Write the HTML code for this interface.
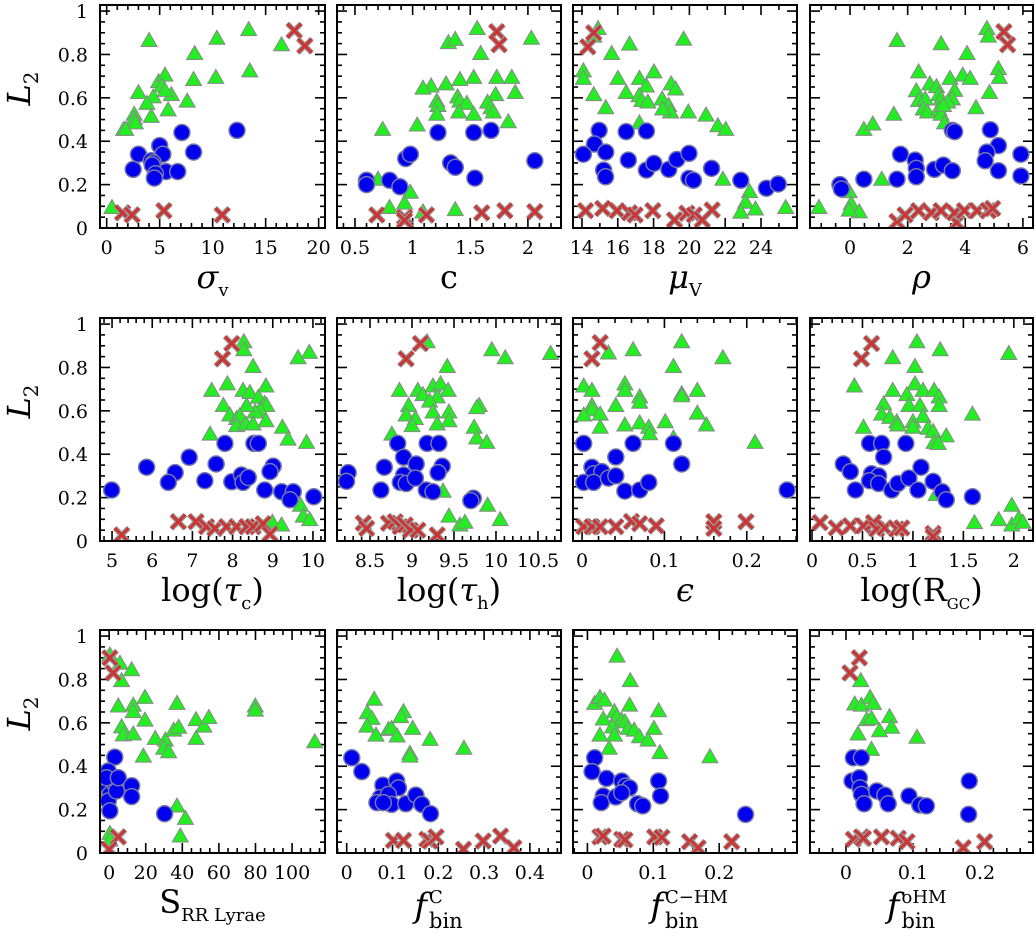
<!DOCTYPE html>
<html><head><meta charset="utf-8"><style>
html,body{margin:0;padding:0;background:#fff;}
svg{display:block;font-family:"DejaVu Serif","Liberation Serif",serif;}
</style></head><body>
<svg id="fig" width="1036" height="939" viewBox="0 0 1036 939" xmlns="http://www.w3.org/2000/svg"></svg>
<script>
// ---------- DATA (x, L2) ----------
const sigmaGreen=[[4.0,0.86],[10.4,0.87],[13.4,0.91],[16.5,0.84],[8.3,0.80],[13.5,0.72],[10.3,0.69],[8.2,0.68],[4.9,0.67],[5.5,0.70],[5.2,0.65],[3.0,0.62],[4.4,0.60],[6.1,0.61],[5.5,0.63],[3.8,0.57],[5.8,0.54],[7.6,0.58],[2.6,0.52],[2.6,0.50],[2.7,0.48],[4.2,0.51],[1.6,0.45],[1.8,0.45],[0.5,0.09]];
const sigmaBlue=[[7.1,0.44],[12.3,0.45],[8.2,0.35],[3.0,0.34],[5.0,0.38],[5.3,0.34],[4.2,0.31],[4.4,0.30],[4.3,0.29],[2.5,0.27],[5.6,0.26],[6.7,0.26],[4.6,0.25],[4.5,0.23]];
const sigmaRed=[[17.7,0.91],[18.7,0.84],[1.5,0.07],[2.4,0.06],[5.4,0.08],[10.9,0.06]];

const cGreenX=[1.56,1.31,1.37,2.03,1.59,1.53,1.41,1.29,1.16,1.09,1.73,1.86,1.89,1.72,1.39,1.41,1.21,1.22,1.21,1.47,1.40,1.53,1.65,1.68,1.70,1.83,1.04,0.74,0.70,0.98,0.93,0.80,1.09,1.37];
const cGreenY=[0.915,0.85,0.865,0.87,0.80,0.69,0.68,0.66,0.65,0.64,0.69,0.69,0.62,0.61,0.60,0.58,0.58,0.56,0.52,0.57,0.53,0.52,0.575,0.55,0.53,0.485,0.47,0.45,0.22,0.16,0.11,0.09,0.07,0.08];
const cBlueX=[1.22,1.53,1.68,2.06,0.94,0.98,1.33,1.37,1.54,0.60,0.60,0.80,0.89];
const cBlueY=[0.44,0.44,0.45,0.31,0.32,0.34,0.30,0.28,0.23,0.22,0.20,0.22,0.19];
const cRedX=[1.73,1.75,0.69,0.93,0.93,1.12,1.60,1.80,2.06];
const cRedY=[0.905,0.845,0.06,0.05,0.035,0.06,0.07,0.08,0.075];

const muGreen=[[14.90,0.915],[14.66,0.88],[16.66,0.843],[15.66,0.80],[19.68,0.866],[14.08,0.72],[14.08,0.685],[14.66,0.61],[16.01,0.685],[17.21,0.685],[18.02,0.715],[17.60,0.65],[16.47,0.62],[17.19,0.605],[17.35,0.583],[17.68,0.576],[18.98,0.66],[19.23,0.636],[18.48,0.59],[18.84,0.56],[18.95,0.53],[18.51,0.544],[15.33,0.55],[17.21,0.48],[19.94,0.53],[20.93,0.516],[21.59,0.467],[22.03,0.45],[21.87,0.22],[23.36,0.163],[23.14,0.114],[23.69,0.083],[22.87,0.068],[25.38,0.09]];
const muBlue=[[14.96,0.45],[16.47,0.444],[17.60,0.447],[14.70,0.387],[14.08,0.34],[15.33,0.35],[15.21,0.267],[15.32,0.236],[16.59,0.313],[17.60,0.267],[18.02,0.298],[18.85,0.27],[19.30,0.316],[19.98,0.344],[19.98,0.229],[20.23,0.22],[21.24,0.275],[22.87,0.22],[24.30,0.183],[24.96,0.203]];
const muRed=[[14.66,0.9],[14.33,0.835],[14.20,0.08],[15.16,0.09],[15.96,0.08],[16.66,0.07],[16.97,0.06],[17.96,0.08],[19.17,0.037],[19.86,0.068],[20.27,0.06],[20.72,0.037],[21.27,0.083]];

const rhoGreen=[[1.63,0.86],[3.16,0.845],[4.75,0.915],[4.80,0.88],[4.06,0.80],[5.15,0.73],[5.18,0.69],[2.38,0.715],[2.77,0.66],[3.0,0.647],[3.47,0.685],[3.91,0.70],[4.17,0.685],[2.30,0.628],[3.08,0.61],[3.16,0.59],[3.63,0.63],[3.55,0.59],[4.84,0.62],[2.38,0.583],[2.61,0.59],[2.54,0.544],[2.69,0.53],[3.08,0.544],[3.16,0.52],[3.39,0.576],[3.24,0.56],[4.37,0.55],[1.52,0.52],[0.48,0.45],[0.79,0.475],[1.10,0.22],[3.28,0.48],[-1.08,0.09],[-0.03,0.163],[0.04,0.107],[0.32,0.07],[-0.03,0.078]];
const rhoBlue=[[3.55,0.45],[3.63,0.444],[4.87,0.453],[5.15,0.38],[4.75,0.35],[4.69,0.31],[5.93,0.34],[5.93,0.24],[5.15,0.264],[1.75,0.34],[2.26,0.313],[2.30,0.275],[2.30,0.236],[2.93,0.27],[3.24,0.29],[3.55,0.264],[0.48,0.225],[1.63,0.225],[-0.35,0.2],[-0.30,0.18]];
const rhoRed=[[5.34,0.905],[5.47,0.845],[1.63,0.03],[1.91,0.06],[2.38,0.08],[2.82,0.07],[3.16,0.08],[3.70,0.025],[3.63,0.07],[3.97,0.08],[4.41,0.08],[4.8,0.08],[4.95,0.09]];

const tcGreen=[[8.28,0.914],[8.28,0.877],[8.51,0.80],[9.63,0.84],[9.91,0.865],[7.48,0.69],[7.87,0.72],[8.26,0.69],[8.43,0.68],[8.83,0.71],[8.64,0.658],[8.80,0.63],[8.85,0.62],[8.68,0.60],[8.56,0.59],[8.35,0.62],[7.77,0.62],[7.93,0.576],[8.10,0.56],[8.18,0.573],[8.10,0.527],[8.33,0.535],[8.51,0.535],[8.83,0.55],[7.44,0.488],[9.24,0.52],[9.38,0.465],[9.84,0.45],[9.69,0.16],[9.76,0.11],[9.92,0.094],[8.99,0.082],[9.22,0.069]];
const tcBlue=[[4.99,0.235],[5.86,0.34],[6.57,0.315],[6.40,0.27],[6.92,0.386],[7.31,0.278],[7.59,0.355],[7.81,0.45],[7.98,0.273],[8.22,0.304],[8.26,0.27],[8.39,0.293],[8.53,0.45],[8.64,0.45],[9.01,0.345],[8.93,0.32],[8.80,0.235],[9.22,0.227],[9.51,0.227],[9.43,0.19],[10.02,0.204]];
const tcRed=[[7.98,0.91],[7.75,0.84],[5.24,0.028],[6.65,0.089],[7.09,0.089],[7.35,0.066],[7.56,0.058],[7.85,0.066],[8.10,0.066],[8.35,0.066],[8.51,0.066],[8.76,0.08],[8.93,0.032]];

const thGreen=[[9.18,0.914],[9.95,0.877],[10.11,0.84],[10.65,0.86],[9.42,0.80],[8.85,0.69],[9.07,0.69],[9.13,0.67],[9.25,0.71],[9.34,0.72],[9.43,0.69],[9.30,0.66],[9.21,0.64],[8.96,0.62],[8.93,0.576],[9.04,0.56],[9.00,0.527],[9.25,0.59],[9.30,0.535],[9.44,0.59],[9.44,0.55],[9.80,0.62],[9.77,0.61],[9.74,0.52],[9.77,0.47],[9.89,0.45],[8.76,0.488],[9.37,0.225],[9.44,0.11],[9.57,0.069],[9.63,0.082],[9.90,0.16],[10.05,0.094]];
const thBlue=[[8.24,0.315],[8.22,0.275],[8.67,0.34],[8.63,0.235],[8.83,0.45],[8.90,0.386],[9.05,0.355],[8.90,0.304],[8.86,0.27],[8.93,0.265],[9.04,0.29],[9.18,0.45],[9.32,0.45],[9.36,0.345],[9.31,0.315],[9.17,0.235],[9.25,0.227],[9.73,0.197],[9.70,0.186]];
const thRed=[[9.10,0.91],[8.93,0.84],[8.42,0.082],[8.46,0.058],[8.72,0.082],[8.80,0.089],[8.86,0.066],[8.92,0.074],[8.98,0.05],[9.07,0.05],[9.30,0.028]];

const epsGreen=[[0.032,0.862],[0.062,0.877],[0.121,0.914],[0.111,0.80],[0.171,0.84],[0.002,0.71],[0.012,0.69],[0.052,0.72],[0.052,0.69],[0.041,0.62],[0.012,0.62],[0.012,0.60],[0.002,0.576],[0.022,0.58],[0.022,0.52],[0.070,0.66],[0.070,0.635],[0.052,0.53],[0.070,0.54],[0.081,0.52],[0.082,0.49],[0.101,0.545],[0.111,0.47],[0.121,0.675],[0.121,0.665],[0.140,0.69],[0.140,0.585],[0.151,0.53],[0.210,0.45]];
const epsBlue=[[0.002,0.45],[0.062,0.45],[0.111,0.45],[0.121,0.355],[0.041,0.387],[0.012,0.34],[0.014,0.31],[0.024,0.32],[0.002,0.27],[0.014,0.27],[0.032,0.29],[0.041,0.30],[0.052,0.23],[0.07,0.235],[0.081,0.27],[0.249,0.235]];
const epsRed=[[0.022,0.914],[0.012,0.84],[0.002,0.066],[0.012,0.066],[0.022,0.066],[0.041,0.066],[0.06,0.09],[0.07,0.08],[0.09,0.07],[0.160,0.089],[0.160,0.058],[0.199,0.089]];

const rgcGreen=[[1.04,0.914],[1.27,0.877],[0.80,0.84],[1.95,0.86],[1.02,0.80],[1.02,0.72],[0.42,0.71],[0.80,0.69],[0.94,0.67],[1.10,0.69],[1.21,0.69],[1.26,0.66],[1.26,0.62],[0.96,0.62],[1.07,0.62],[0.71,0.628],[0.69,0.58],[0.77,0.565],[0.84,0.545],[0.85,0.53],[1.0,0.545],[1.0,0.52],[1.10,0.57],[1.15,0.515],[1.20,0.50],[1.33,0.48],[1.21,0.45],[1.25,0.445],[0.51,0.52],[1.59,0.58],[1.98,0.16],[1.85,0.094],[1.98,0.069],[2.05,0.10],[2.09,0.082],[1.61,0.08],[1.23,0.21]];
const rgcBlue=[[0.57,0.45],[0.69,0.45],[0.93,0.45],[0.71,0.387],[0.31,0.355],[0.38,0.32],[0.43,0.235],[0.59,0.31],[0.66,0.30],[0.57,0.278],[0.66,0.265],[0.79,0.235],[0.85,0.265],[0.96,0.29],[1.08,0.34],[1.05,0.235],[1.20,0.275],[1.29,0.227],[1.33,0.19],[1.59,0.204]];
const rgcRed=[[0.59,0.91],[0.49,0.84],[0.08,0.085],[0.24,0.06],[0.38,0.07],[0.51,0.07],[0.61,0.085],[0.64,0.055],[0.72,0.06],[0.84,0.055],[0.89,0.06],[1.20,0.035],[1.20,0.02]];

const srrGreen=[[0.4,0.908],[0.4,0.086],[0.4,0.055],[5.9,0.87],[6.8,0.79],[12.3,0.84],[5.0,0.673],[13.2,0.677],[13.2,0.647],[19.6,0.713],[19.6,0.608],[6.8,0.577],[7.7,0.54],[13.2,0.544],[18.7,0.442],[25.2,0.524],[30.7,0.516],[29.8,0.478],[32.5,0.462],[37.1,0.685],[35.3,0.562],[38.0,0.575],[47.5,0.61],[47.5,0.524],[51.8,0.58],[54.5,0.62],[79.9,0.673],[79.9,0.654],[112.4,0.508],[37.1,0.212],[41.7,0.155],[38.9,0.074]];
const srrBlue=[[3.1,0.442],[-0.5,0.378],[0.4,0.332],[-0.5,0.30],[0.4,0.27],[-0.5,0.24],[0.4,0.194],[3.1,0.318],[4.0,0.286],[-1.5,0.347],[5.0,0.347],[12.3,0.31],[12.3,0.26],[30.3,0.181]];
const srrRed=[[2.2,0.83],[5.0,0.074],[0.0,0.017],[0.4,0.9]];

const fcGreen=[[0.060,0.704],[0.045,0.642],[0.055,0.616],[0.044,0.58],[0.064,0.539],[0.091,0.565],[0.098,0.57],[0.110,0.535],[0.124,0.647],[0.118,0.624],[0.144,0.57],[0.138,0.455],[0.138,0.442],[0.182,0.519],[0.256,0.478]];
const fcBlue=[[0.011,0.439],[0.033,0.375],[0.079,0.313],[0.109,0.332],[0.113,0.30],[0.073,0.255],[0.091,0.27],[0.098,0.224],[0.066,0.232],[0.080,0.232],[0.129,0.227],[0.151,0.267],[0.164,0.224],[0.183,0.181]];
const fcRed=[[0.102,0.058],[0.124,0.058],[0.175,0.063],[0.182,0.055],[0.195,0.074],[0.255,0.017],[0.298,0.055],[0.336,0.078],[0.365,0.024]];

const fchmGreen=[[0.045,0.903],[0.065,0.79],[0.011,0.685],[0.019,0.713],[0.026,0.70],[0.064,0.677],[0.108,0.651],[0.041,0.647],[0.045,0.624],[0.024,0.613],[0.052,0.608],[0.057,0.60],[0.038,0.577],[0.062,0.57],[0.071,0.562],[0.101,0.57],[0.019,0.539],[0.041,0.539],[0.079,0.531],[0.092,0.516],[0.033,0.478],[0.110,0.458],[0.186,0.439]];
const fchmBlue=[[0.011,0.439],[0.007,0.375],[0.029,0.344],[0.024,0.263],[0.021,0.232],[0.052,0.332],[0.058,0.309],[0.064,0.30],[0.043,0.258],[0.052,0.278],[0.076,0.227],[0.084,0.217],[0.108,0.332],[0.111,0.263],[0.24,0.178]];
const fchmRed=[[0.019,0.074],[0.024,0.078],[0.052,0.063],[0.057,0.06],[0.102,0.074],[0.113,0.072],[0.155,0.052],[0.168,0.024],[0.219,0.052]];

const fohmGreen=[[0.022,0.79],[0.013,0.682],[0.023,0.677],[0.036,0.713],[0.041,0.685],[0.031,0.61],[0.038,0.616],[0.065,0.624],[0.068,0.575],[0.050,0.559],[0.018,0.544],[0.106,0.529],[0.038,0.473]];
const fohmBlue=[[0.011,0.439],[0.023,0.439],[0.009,0.332],[0.020,0.347],[0.021,0.30],[0.023,0.27],[0.027,0.227],[0.046,0.286],[0.058,0.267],[0.063,0.227],[0.094,0.263],[0.110,0.221],[0.120,0.217],[0.184,0.332],[0.183,0.178]];
const fohmRed=[[0.020,0.90],[0.006,0.83],[0.011,0.063],[0.023,0.074],[0.026,0.068],[0.053,0.074],[0.078,0.068],[0.091,0.052],[0.175,0.024],[0.207,0.052]];

const yTickLabels=["0","0.2","0.4","0.6","0.8","1"];
const yTickValues=[0,0.2,0.4,0.6,0.8,1];

// ---------- drawing ----------
const NS="http://www.w3.org/2000/svg";
const svg=document.getElementById('fig');
function el(tag,attrs,parent){const e=document.createElementNS(NS,tag);for(const k in attrs)e.setAttribute(k,attrs[k]);(parent||svg).appendChild(e);return e;}
function zip(xs,ys){return xs.map((x,i)=>[x,ys[i]]);}

const colX=[[100,325],[337,561],[573,797],[810,1033]];
const rowY=[[5,228],[318,541],[630,853]];
const YMAX=1.028;

const panels=[
 {name:'sigma-v',col:0,row:0,dom:[-0.63,20.6],ticks:[0,5,10,15,20],labels:["0","5","10","15","20"],minor:1,title:'<tspan font-style="italic">σ</tspan><tspan dy="8" font-size="18">v</tspan>',g:sigmaGreen,b:sigmaBlue,r:sigmaRed},
 {name:'concentration',col:1,row:0,dom:[0.344,2.287],ticks:[0.5,1,1.5,2],labels:["0.5","1","1.5","2"],minor:0.1,title:'c',g:zip(cGreenX,cGreenY),b:zip(cBlueX,cBlueY),r:zip(cRedX,cRedY)},
 {name:'mu-v',col:2,row:0,dom:[13.50,26.01],ticks:[14,16,18,20,22,24],labels:["14","16","18","20","22","24"],minor:1,title:'<tspan font-style="italic">μ</tspan><tspan dy="8" font-size="18">V</tspan>',g:muGreen,b:muBlue,r:muRed},
 {name:'rho',col:3,row:0,dom:[-1.39,6.35],ticks:[0,2,4,6],labels:["0","2","4","6"],minor:0.5,title:'<tspan font-style="italic">ρ</tspan>',g:rhoGreen,b:rhoBlue,r:rhoRed},
 {name:'log-tau-c',col:0,row:1,dom:[4.7,10.3],ticks:[5,6,7,8,9,10],labels:["5","6","7","8","9","10"],minor:0.2,title:'log(<tspan font-style="italic">τ</tspan><tspan dy="8" font-size="18">c</tspan><tspan dy="-8">)</tspan>',g:tcGreen,b:tcBlue,r:tcRed},
 {name:'log-tau-h',col:1,row:1,dom:[8.107,10.774],ticks:[8.5,9,9.5,10,10.5],labels:["8.5","9","9.5","10","10.5"],minor:0.1,title:'log(<tspan font-style="italic">τ</tspan><tspan dy="8" font-size="18">h</tspan><tspan dy="-8">)</tspan>',g:thGreen,b:thBlue,r:thRed},
 {name:'ellipticity',col:2,row:1,dom:[-0.011,0.261],ticks:[0,0.1,0.2],labels:["0","0.1","0.2"],minor:0.02,title:'<tspan font-style="italic">ϵ</tspan>',g:epsGreen,b:epsBlue,r:epsRed},
 {name:'log-rgc',col:3,row:1,dom:[-0.02,2.19],ticks:[0,0.5,1,1.5,2],labels:["0","0.5","1","1.5","2"],minor:0.1,title:'log(R<tspan dy="8" font-size="15">GC</tspan><tspan dy="-8">)</tspan>',g:rgcGreen,b:rgcBlue,r:rgcRed},
 {name:'s-rr-lyrae',col:0,row:2,dom:[-5.0,118.0],ticks:[0,20,40,60,80,100],labels:["0","20","40","60","80","100"],minor:5,title:'S<tspan dy="8" font-size="18">RR Lyrae</tspan>',g:srrGreen,b:srrBlue,r:srrRed},
 {name:'f-bin-c',col:1,row:2,dom:[-0.0212,0.4679],ticks:[0,0.1,0.2,0.3,0.4],labels:["0","0.1","0.2","0.3","0.4"],minor:0.02,fsup:'C',g:fcGreen,b:fcBlue,r:fcRed},
 {name:'f-bin-c-hm',col:2,row:2,dom:[-0.0219,0.3181],ticks:[0,0.1,0.2],labels:["0","0.1","0.2"],minor:0.02,fsup:'C−HM',g:fchmGreen,b:fchmBlue,r:fchmRed},
 {name:'f-bin-ohm',col:3,row:2,dom:[-0.0537,0.2791],ticks:[0,0.1,0.2],labels:["0","0.1","0.2"],minor:0.02,fsup:'oHM',g:fohmGreen,b:fohmBlue,r:fohmRed}
];

panels.forEach(p=>{
  const [x0,x1]=colX[p.col],[y0,y1]=rowY[p.row];
  const sx=v=>x0+(v-p.dom[0])/(p.dom[1]-p.dom[0])*(x1-x0);
  const sy=v=>y1-v/YMAX*(y1-y0);
  const g=el('g',{});
  
  
  const clipId='clip-'+p.name;
  const cp=el('clipPath',{id:clipId},g);el('rect',{x:x0,y:y0,width:x1-x0,height:y1-y0},cp);
  el('rect',{x:x0,y:y0,width:x1-x0,height:y1-y0,fill:'#fff'},g);
  const tk=el('g',{stroke:'#000','stroke-width':1.6},g);
  
  
  const n0=Math.ceil(p.dom[0]/p.minor-1e-6),n1=Math.floor(p.dom[1]/p.minor+1e-6);
  for(let n=n0;n<=n1;n++){const v=n*p.minor;const major=p.ticks.some(t=>Math.abs(t-v)<1e-6);const L=major?10:5;const X=sx(v);
    el('line',{x1:X,y1:y1,x2:X,y2:y1-L},tk);el('line',{x1:X,y1:y0,x2:X,y2:y0+L},tk);}
  for(let n=0;n<=20;n++){const v=n*0.05;const major=n%4===0;const L=major?10:5;const Y=sy(v);
    el('line',{x1:x0,y1:Y,x2:x0+L,y2:Y},tk);el('line',{x1:x1,y1:Y,x2:x1-L,y2:Y},tk);}
  const mk=el('g',{'clip-path':'url(#'+clipId+')'},g);
  p.g.forEach(d=>{const X=sx(d[0]),Y=sy(d[1]);
    const t=el('polygon',{points:`${X},${Y-9} ${X-8},${Y+5} ${X+8},${Y+5}`,fill:'#22ee22',stroke:'#888','stroke-width':1},mk);
    
    });
  p.b.forEach(d=>{const X=sx(d[0]),Y=sy(d[1]);
    const c=el('circle',{cx:X,cy:Y,r:8,fill:'#0000ee',stroke:'#7777aa','stroke-width':1.5},mk);
    
    });
  p.r.forEach(d=>{const X=sx(d[0]),Y=sy(d[1]);const s=7;
    const xg=el('g',{},mk);
    
    
    const dpath=`M${X-s},${Y-s}L${X+s},${Y+s}M${X+s},${Y-s}L${X-s},${Y+s}`;
    el('path',{d:dpath,stroke:'#999','stroke-width':5.5,fill:'none'},xg);
    el('path',{d:dpath,stroke:'#cc3333','stroke-width':3,fill:'none'},xg);});
  el('rect',{x:x0,y:y0,width:x1-x0,height:y1-y0,fill:'none',stroke:'#000','stroke-width':2},g);
  p.ticks.forEach((t,i)=>{const tx=el('text',{x:sx(t),y:y1+26,'font-size':19,'text-anchor':'middle'},g);tx.textContent=p.labels[i];
    
    });
  if(p.col===0){yTickValues.forEach((v,i)=>{const ty=el('text',{x:x0-12,y:sy(v)+7,'font-size':19,'text-anchor':'end'},g);ty.textContent=yTickLabels[i];
    
    });
    const yl=el('text',{x:0,y:0,'font-size':32,'font-style':'italic','text-anchor':'middle',transform:`translate(30,${(y0+y1)/2-28}) rotate(-90)`},g);
    yl.innerHTML='L<tspan dy="8" font-size="20" font-style="normal">2</tspan>';
    
    }
  const cx=(x0+x1)/2;
  if(p.fsup){
    const tg=el('g',{},g);
    
    
    const fx=cx-22;
    const f=el('text',{x:fx,y:y1+64,'font-size':34,'font-style':'italic','text-anchor':'end'},tg);f.textContent='f';
    const sp=el('text',{x:fx+2,y:y1+50,'font-size':18},tg);sp.textContent=p.fsup;
    const sb=el('text',{x:fx+2,y:y1+75,'font-size':21},tg);sb.textContent='bin';
  } else {
    const tt=el('text',{x:cx,y:y1+60,'font-size':32,'text-anchor':'middle'},g);
    tt.innerHTML=p.title;
    
    
  }
});
</script>
</body></html>
